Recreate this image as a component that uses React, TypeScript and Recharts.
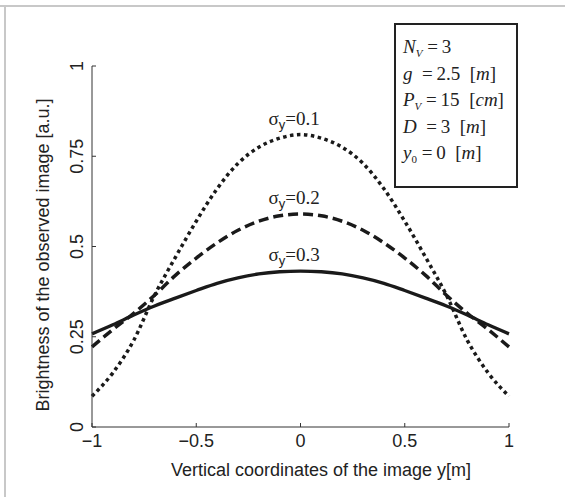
import { LineChart, Line, XAxis, YAxis, ReferenceDot } from 'recharts'

// vertical coordinate of the image, y [m]
const yCoords = [
  -1, -0.9, -0.8, -0.7, -0.6, -0.5, -0.4, -0.3, -0.2, -0.1, 0,
  0.1, 0.2, 0.3, 0.4, 0.5, 0.6, 0.7, 0.8, 0.9, 1,
]

// brightness [a.u.] for each sigma_y
const sigma01 = [
  0.085, 0.15, 0.24, 0.365, 0.47, 0.57, 0.66, 0.73, 0.775, 0.8, 0.81,
  0.8, 0.775, 0.73, 0.66, 0.57, 0.47, 0.365, 0.24, 0.15, 0.085,
]
const sigma02 = [
  0.222, 0.27, 0.315, 0.365, 0.42, 0.468, 0.51, 0.545, 0.57, 0.585, 0.59,
  0.585, 0.57, 0.545, 0.51, 0.468, 0.42, 0.365, 0.315, 0.27, 0.222,
]
const sigma03 = [
  0.258, 0.283, 0.31, 0.335, 0.357, 0.378, 0.398, 0.413, 0.424, 0.43, 0.432,
  0.43, 0.424, 0.413, 0.398, 0.378, 0.357, 0.335, 0.31, 0.283, 0.258,
]

const xTicks = [-1, -0.5, 0, 0.5, 1]
const yTicks = [0, 0.25, 0.5, 0.75, 1]

// curve labels, placed above each peak
const curveLabels = ['0.1', '0.2', '0.3']
const curvePeaks = [0.81, 0.59, 0.432]

// parameter box lines
const params = [
  { sym: 'N', sub: 'V', subItalic: true, rest: '=3', unit: '' },
  { sym: 'g', sub: '', subItalic: false, rest: '\u00a0=2.5', unit: 'm' },
  { sym: 'P', sub: 'V', subItalic: true, rest: '=15', unit: 'cm' },
  { sym: 'D', sub: '', subItalic: false, rest: '\u00a0=3', unit: 'm' },
  { sym: 'y', sub: '0', subItalic: false, rest: '=0', unit: 'm' },
]

const data = yCoords.map((y, i) => ({
  y,
  s1: sigma01[i],
  s2: sigma02[i],
  s3: sigma03[i],
}))

const INK = '#1a1a1a'
const SANS = '"Liberation Sans", Arial, sans-serif'
const SERIF = '"Liberation Serif", "Times New Roman", serif'

function fmt(v: number) {
  if (v === 0) return '0'
  const s = String(Math.abs(v))
  return (v < 0 ? '\u2212' : '') + s
}

const XTick = (props: any) => {
  const { x, payload } = props
  return (
    <g>
      <line x1={x} x2={x} y1={427} y2={423} stroke="#333" strokeWidth={1} />
      <text x={x} y={447} textAnchor="middle" fontFamily={SANS} fontSize={18} fill="#222">
        {fmt(payload.value)}
      </text>
    </g>
  )
}

const YTick = (props: any) => {
  const { y, payload } = props
  return (
    <g>
      <line x1={92} x2={96} y1={y} y2={y} stroke="#333" strokeWidth={1} />
      <text
        x={83}
        y={y}
        transform={`rotate(-90, 83, ${y})`}
        textAnchor="middle"
        fontFamily={SANS}
        fontSize={18}
        fill="#222"
      >
        {fmt(payload.value)}
      </text>
    </g>
  )
}

const sigmaLabel = (val: string) => (props: any) => {
  const vb = props.viewBox || {}
  const cx = (vb.x ?? 0) + (vb.width ?? 0) / 2
  const cy = (vb.y ?? 0) + (vb.height ?? 0) / 2
  return (
    <text x={cx - 32} y={cy - 10} fontFamily={SERIF} fontSize={19} fill="#222">
      {'\u03c3'}
      <tspan fontFamily={SANS} fontSize={13} dy={4}>y</tspan>
      <tspan dy={-4}>={val}</tspan>
    </text>
  )
}

export default function App() {
  return (
    <div style={{ position: 'absolute', left: 0, top: 0, width: 565, height: 497, background: '#fff' }}>
      <svg width={565} height={497} style={{ position: 'absolute', left: 0, top: 0 }}>
        <line x1={0} x2={565} y1={6} y2={6} stroke="#c8c8c8" strokeWidth={2} />
        <line x1={5} x2={5} y1={5} y2={497} stroke="#c8c8c8" strokeWidth={2} />
      </svg>
      <div style={{ position: 'absolute', left: 0, top: 0 }}>
        <LineChart width={565} height={497} data={data} margin={{ top: 66, right: 56, bottom: 30, left: 42 }}>
          <XAxis
            dataKey="y"
            type="number"
            domain={[-1, 1]}
            ticks={xTicks}
            tick={<XTick />}
            tickLine={false}
            axisLine={{ stroke: '#333', strokeWidth: 1 }}
            height={40}
            label={{
              content: () => (
                <text x={321} y={476} textAnchor="middle" fontFamily={SANS} fontSize={18} fill="#222">
                  Vertical coordinates of the image y[m]
                </text>
              ),
            }}
          />
          <YAxis
            type="number"
            domain={[0, 1]}
            ticks={yTicks}
            tick={<YTick />}
            tickLine={false}
            axisLine={{ stroke: '#333', strokeWidth: 1 }}
            width={50}
            label={{
              content: () => (
                <text
                  x={43}
                  y={255}
                  transform="rotate(-90, 43, 255)"
                  textAnchor="middle"
                  dominantBaseline="central"
                  fontFamily={SANS}
                  fontSize={18}
                  fill="#222"
                >
                  Brightness of the observed image [a.u.]
                </text>
              ),
            }}
          />
          <Line
            type="monotone"
            dataKey="s1"
            stroke={INK}
            strokeWidth={3.5}
            strokeDasharray="3.5 3.5"
            dot={false}
            isAnimationActive={false}
          />
          <Line
            type="monotone"
            dataKey="s2"
            stroke={INK}
            strokeWidth={3.5}
            strokeDasharray="10 5"
            dot={false}
            isAnimationActive={false}
          />
          <Line
            type="monotone"
            dataKey="s3"
            stroke={INK}
            strokeWidth={3.3}
            dot={false}
            isAnimationActive={false}
          />
          {curveLabels.map((lab, i) => (
            <ReferenceDot
              key={lab}
              x={0}
              y={curvePeaks[i]}
              r={0}
              stroke="none"
              fill="none"
              label={{ content: sigmaLabel(lab) }}
            />
          ))}
        </LineChart>
      </div>
      <svg width={565} height={497} style={{ position: 'absolute', left: 0, top: 0, pointerEvents: 'none' }}>
        <rect x={395} y={24} width={122} height={163} fill="#fff" stroke="#222" strokeWidth={2} />
        {params.map((p, i) => (
          <text key={i} x={403} y={53 + i * 26.5} fontFamily={SERIF} fontSize={19} fill="#222">
            <tspan fontStyle="italic">{p.sym}</tspan>
            {p.sub ? (
              <tspan fontSize={11} dy={4} fontStyle={p.subItalic ? 'italic' : 'normal'}>
                {p.sub}
              </tspan>
            ) : null}
            <tspan dy={p.sub ? -4 : 0}>{'\u00a0' + p.rest.replace('=', '=\u2009')}</tspan>
            {p.unit ? (
              <>
                <tspan>{'\u00a0\u00a0['}</tspan>
                <tspan fontStyle="italic">{p.unit}</tspan>
                <tspan>]</tspan>
              </>
            ) : null}
          </text>
        ))}
      </svg>
    </div>
  )
}
